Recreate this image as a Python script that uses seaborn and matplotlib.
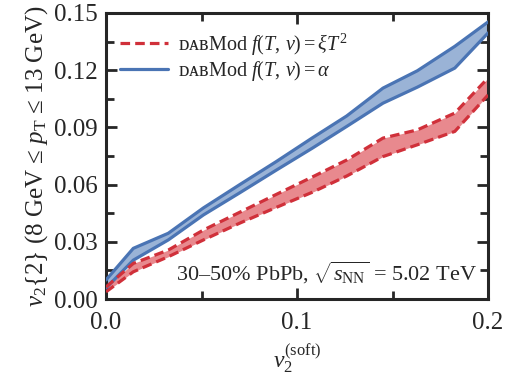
import numpy as np
import pandas as pd
import matplotlib
matplotlib.use("Agg")
import matplotlib.pyplot as plt
import seaborn as sns

# ---- data ----
v2_soft = [0.0, 0.0143, 0.0326, 0.051, 0.070, 0.089, 0.108, 0.126, 0.145, 0.163, 0.1826, 0.2]
alpha_upper = [0.0100, 0.0266, 0.0345, 0.0478, 0.0600, 0.0720, 0.0845, 0.0960, 0.1106, 0.1197, 0.1325, 0.1453]
alpha_lower = [0.0058, 0.0204, 0.0310, 0.0441, 0.0557, 0.0675, 0.0791, 0.0905, 0.1027, 0.1111, 0.1211, 0.1395]
xiT2_upper = [0.0063, 0.0187, 0.0257, 0.0362, 0.0455, 0.0548, 0.0640, 0.0729, 0.0844, 0.0887, 0.0975, 0.1159]
xiT2_lower = [0.0038, 0.0143, 0.0222, 0.0310, 0.0398, 0.0480, 0.0560, 0.0645, 0.0747, 0.0809, 0.0879, 0.1070]

xticks = [0.0, 0.1, 0.2]
xtick_labels = ["0.0", "0.1", "0.2"]
yticks = [0.00, 0.03, 0.06, 0.09, 0.12, 0.15]
ytick_labels = ["0.00", "0.03", "0.06", "0.09", "0.12", "0.15"]

label_xi = "ᴅᴀʙMᴏd $f(T,\\,v) = \\xi T^2$"
label_alpha = "ᴅᴀʙMᴏd $f(T,\\,v) = \\alpha$"
annot = "30–50% PbPb, $\\sqrt{s_{\\mathrm{NN}}}$ = 5.02 TeV"
ylabel = "$v_2\\{2\\}$ (8 GeV ≤ $p_{\\mathrm{T}}$ ≤ 13 GeV)"
xlabel = "$v_2^{(\\mathrm{soft})}$"

sns.set_theme(style="ticks")
plt.rcParams["font.family"] = ["Liberation Serif", "DejaVu Serif"]
plt.rcParams["mathtext.fontset"] = "custom"
plt.rcParams["mathtext.rm"] = "Liberation Serif"
plt.rcParams["mathtext.it"] = "Liberation Serif:italic"
plt.rcParams["mathtext.bf"] = "Liberation Serif:bold"

blue = "#4a74b4"
blue_fill = "#9ab3d6"
red = "#d0303a"
red_fill = "#e8898e"

df = pd.DataFrame({
    "x": v2_soft,
    "au": alpha_upper, "al": alpha_lower,
    "xu": xiT2_upper, "xl": xiT2_lower,
})

fig = plt.figure(figsize=(5.17, 3.81), dpi=100)
ax = fig.add_axes([0.205, 0.215, 0.739, 0.751])

ax.fill_between(df["x"], df["al"], df["au"], color=blue_fill, lw=0, zorder=1)
ax.fill_between(df["x"], df["xl"], df["xu"], color=red_fill, lw=0, zorder=1)

lw = 2.3
sns.lineplot(data=df, x="x", y="au", ax=ax, color=blue, lw=lw, label=label_alpha, zorder=3)
sns.lineplot(data=df, x="x", y="al", ax=ax, color=blue, lw=lw, zorder=3)
sns.lineplot(data=df, x="x", y="xu", ax=ax, color=red, lw=lw, ls=(0, (3, 1.6)), label=label_xi, zorder=4)
sns.lineplot(data=df, x="x", y="xl", ax=ax, color=red, lw=lw, ls=(0, (3, 1.6)), zorder=4)

ax.set_xlim(0, 0.2)
ax.set_ylim(0, 0.15)
ax.set_xticks(xticks)
ax.set_xticklabels(xtick_labels)
ax.set_yticks(yticks)
ax.set_yticklabels(ytick_labels)
ax.set_xticks([0.05, 0.15], minor=True)
ax.set_yticks(np.arange(0.015, 0.15, 0.03), minor=True)
ax.tick_params(which="both", direction="in", top=True, right=True, width=2.0, labelsize=18)
ax.tick_params(axis="x", which="major", pad=9)
ax.tick_params(axis="y", which="major", pad=6)
ax.tick_params(which="major", length=8)
ax.tick_params(which="minor", length=5.5)
for s in ax.spines.values():
    s.set_linewidth(2.2)

ax.set_xlabel(xlabel, fontsize=17, labelpad=6)
ax.set_ylabel(ylabel, fontsize=18, labelpad=3)

handles, labels = ax.get_legend_handles_labels()
order = [labels.index(label_xi), labels.index(label_alpha)]
ax.legend([handles[i] for i in order], [labels[i] for i in order],
          loc="upper left", frameon=False, fontsize=14.5, handlelength=2.4,
          handletextpad=0.5, labelspacing=0.05, borderaxespad=0.3,
          bbox_to_anchor=(0.0, 0.985))

ax.text(0.97, 0.045, annot, transform=ax.transAxes, ha="right", va="bottom", fontsize=16)

fig.savefig("out.png", dpi=100)
